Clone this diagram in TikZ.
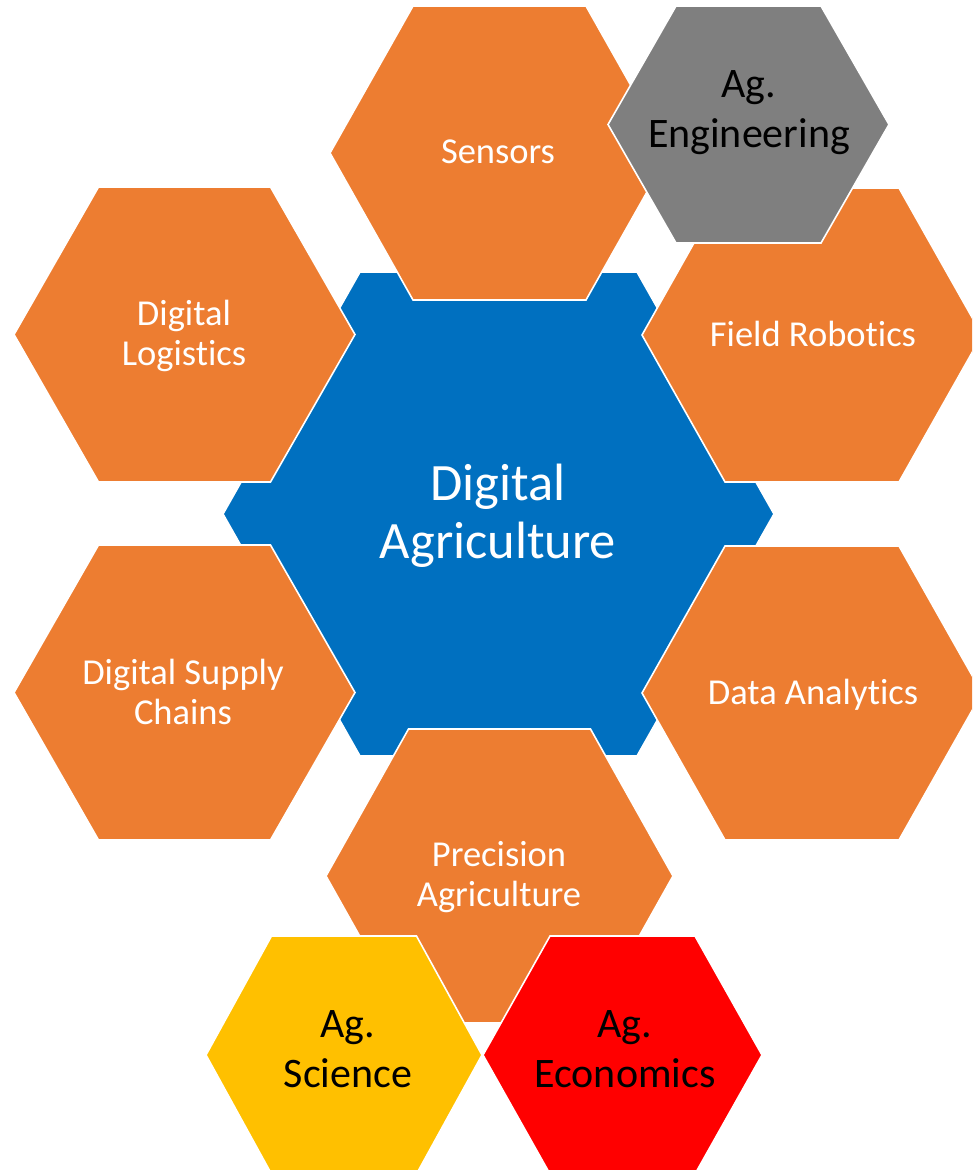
\documentclass[tikz,border=0pt]{standalone}
\usepackage{fontspec}
\setmainfont{Carlito}[Ligatures={NoCommon,NoContextual}]
\newcommand\noti{t\kern0pt i}
\definecolor{hexorange}{HTML}{ED7D31}
\definecolor{hexblue}{HTML}{0070C0}
\definecolor{hexgray}{HTML}{7F7F7F}
\definecolor{hexyellow}{HTML}{FFC000}
\definecolor{hexred}{HTML}{FF0000}
\tikzset{
  hexborder/.style={draw=white, line width=1.6pt, line join=miter},
  lbl/.style={anchor=base, inner sep=0pt, outer sep=0pt},
  smalltxt/.style={lbl, text=white, font=\fontsize{36.5}{40.5}\selectfont},
  agtxt/.style={lbl, text=black, font=\fontsize{42}{50.5}\selectfont},
  bigtxt/.style={lbl, text=white, font=\fontsize{52.5}{58}\selectfont}
}
% center x, center y, half-width to point, half-width of flat edge, half-height, colour
\newcommand\hexshape[6]{%
  \filldraw[hexborder, fill=#6] ({#1-#3},#2) -- ({#1-#4},{#2-#5}) -- ({#1+#4},{#2-#5})
    -- ({#1+#3},#2) -- ({#1+#4},{#2+#5}) -- ({#1-#4},{#2+#5}) -- cycle;}
\begin{document}
\begin{tikzpicture}[x=1pt, y=-1pt]
\clip (0,0) rectangle (972,1170);
\fill[white] (0,0) rectangle (972,1170);
% central hexagon
\hexshape{498.5}{514}{275.5}{138.5}{242}{hexblue}
% orange hexagons
\hexshape{499.5}{153}{169.5}{86.5}{147}{hexorange}
\hexshape{184.5}{334.5}{170.5}{86}{147.5}{hexorange}
\hexshape{812}{335}{170}{87}{147}{hexorange}
\hexshape{184.5}{692.5}{170.5}{86}{147.5}{hexorange}
\hexshape{812}{693}{170}{87}{147}{hexorange}
\hexshape{499.5}{876}{173.5}{91}{147}{hexorange}
% discipline hexagons
\hexshape{748.5}{124.5}{140.5}{72.5}{118.5}{hexgray}
\hexshape{344}{1055}{138}{72.5}{119}{hexyellow}
\hexshape{622.5}{1055}{139.5}{72.5}{119}{hexred}
% labels
\node[bigtxt] (center) at (498,500) {\begin{tabular}[t]{@{}c@{}}Digital\\Agriculture\end{tabular}};
\node[smalltxt] (sensors) at (498,163) {Sensors};
\node[smalltxt] (logistics) at (184,325) {\begin{tabular}[t]{@{}c@{}}Digital\\Logis\noti cs\end{tabular}};
\node[smalltxt] (robotics) at (813,346) {Field Robo\noti cs};
\node[smalltxt] (supply) at (183,684) {\begin{tabular}[t]{@{}c@{}}Digital Supply\\Chains\end{tabular}};
\node[smalltxt] (analytics) at (813,704) {Data Analy\noti cs};
\node[smalltxt] (precision) at (499,866) {\begin{tabular}[t]{@{}c@{}}Precision\\Agriculture\end{tabular}};
\node[agtxt] (engineering) at (749,97) {\begin{tabular}[t]{@{}c@{}}Ag.\\Engineering\end{tabular}};
\node[agtxt] (science) at (348,1037) {\begin{tabular}[t]{@{}c@{}}Ag.\\Science\end{tabular}};
\node[agtxt] (economics) at (625,1037) {\begin{tabular}[t]{@{}c@{}}Ag.\\Economics\end{tabular}};
\end{tikzpicture}
\end{document}
